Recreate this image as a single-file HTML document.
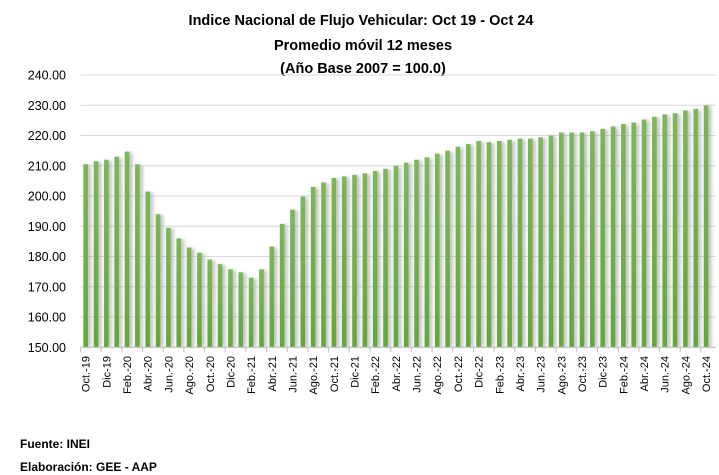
<!DOCTYPE html>
<html><head><meta charset="utf-8"><style>
html,body{margin:0;padding:0;background:#fff;}
svg{display:block;font-family:"Liberation Sans",Arial,sans-serif;}
</style></head><body>
<svg id="c" width="719" height="475" viewBox="0 0 719 475" xmlns="http://www.w3.org/2000/svg">
<defs>
<linearGradient id="g" x1="0" x2="0" y1="0" y2="1"><stop offset="0" stop-color="#7cb75a"/><stop offset="1" stop-color="#62a83c"/></linearGradient>
<filter id="sh" x="-50%" y="-5%" width="250%" height="110%"><feGaussianBlur stdDeviation="1.6"/></filter>
</defs>
<g font-weight="bold" font-size="14.5" text-anchor="middle" fill="#000">
<text x="361" y="25">Indice Nacional  de Flujo Vehicular: Oct 19 - Oct 24</text>
<text x="363" y="50">Promedio móvil 12 meses</text>
<text x="363" y="73">(Año Base 2007 = 100.0)</text>
</g>
<g font-weight="bold" font-size="12" fill="#000">
<text x="20" y="448">Fuente: INEI</text>
<text x="20" y="471">Elaboración: GEE - AAP</text>
</g>
<g id="plot"></g>
</svg>
<script>
var v=[210.5,211.5,212,213,214.7,210.5,201.5,194,189.5,186,183,181.3,179,177.5,175.8,174.8,173,175.8,183.3,190.8,195.5,199.8,203,204.5,206,206.5,207,207.5,208.3,209,210,211,212,212.8,214,215,216.3,217.2,218.2,217.8,218.2,218.6,219,219,219.4,220,221,221,221,221.4,222.2,223,223.8,224.3,225.3,226.2,227,227.4,228.3,228.8,230];
var m=["Oct.","Nov.","Dic","Ene.","Feb.","Mar.","Abr.","May.","Jun.","Jul.","Ago.","Sep."];
var y0=347.3,k=3.025,x0=80.5,dx=10.34,s="";
function Y(val){return y0-(val-150)*k;}
for(var i=0;i<10;i++){var yy=Y(150+i*10);
 s+='<line x1="80.5" x2="716" y1="'+yy+'" y2="'+yy+'" stroke="#d9d9d9" stroke-width="1"/>';
 s+='<text x="66" y="'+(yy+4.5)+'" font-size="12.5" text-anchor="end">'+(150+i*10)+'.00</text>';}
for(i=0;i<61;i++){var cx=x0+dx*(i+0.5),t=Y(v[i]);
 s+='<rect x="'+(cx-0.5)+'" y="'+(t+1)+'" width="6" height="'+(y0-t-1)+'" fill="#999" opacity="0.55" filter="url(#sh)"/>';
 s+='<rect x="'+(cx-2.3)+'" y="'+t+'" width="4.6" height="'+(y0-t)+'" fill="url(#g)"/>';}
s+='<line x1="80.5" x2="716" y1="'+y0+'" y2="'+y0+'" stroke="#bfbfbf"/>';
for(i=0;i<=61;i+=2){var tx=x0+dx*i;s+='<line x1="'+tx+'" x2="'+tx+'" y1="'+y0+'" y2="'+(y0+5)+'" stroke="#bfbfbf"/>';}
for(i=0;i<61;i+=2){var mo=(9+i)%12,yr=19+Math.floor((9+i)/12);var lab=m[(mo+3)%12]+"-"+yr;
 var cx=x0+dx*(i+0.5)+4;
 s+='<text transform="translate('+cx+',356) rotate(-90)" font-size="11" text-anchor="end">'+lab+'</text>';}
document.getElementById("plot").innerHTML=s;
</script>
</body></html>
